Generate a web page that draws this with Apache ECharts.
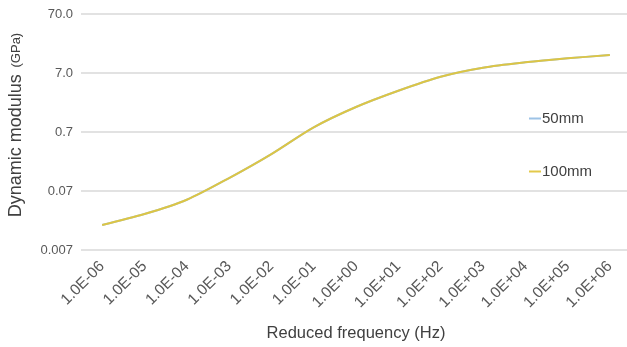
<!DOCTYPE html>
<html>
<head>
<meta charset="utf-8">
<script src="https://cdn.jsdelivr.net/npm/echarts@6/dist/echarts.min.js"></script>
<style>
  html, body { margin: 0; padding: 0; background: #ffffff; }
  #chart { width: 627px; height: 347px; }
</style>
</head>
<body>
<div id="chart"></div>
<script>
// Reduced frequency categories (Hz)
const frequencies = ['1.0E-06', '1.0E-05', '1.0E-04', '1.0E-03', '1.0E-02', '1.0E-01',
  '1.0E+00', '1.0E+01', '1.0E+02', '1.0E+03', '1.0E+04', '1.0E+05', '1.0E+06'];

// Dynamic modulus master curves (GPa)
const modulus50mm = [0.0186, 0.0285, 0.0498, 0.116, 0.296, 0.841, 1.86, 3.51, 6.06, 8.61, 10.6, 12.4, 14.1];
const modulus100mm = [0.0186, 0.0285, 0.0498, 0.116, 0.296, 0.841, 1.86, 3.51, 6.06, 8.61, 10.6, 12.4, 14.1];

// Log-axis gridline values and their printed labels
const yTickValues = [0.007, 0.07, 0.7, 7, 70];
const yTickLabels = ['0.007', '0.07', '0.7', '7.0', '70.0'];

const chart = echarts.init(document.getElementById('chart'), null, { renderer: 'canvas' });

const labelFont = 'Liberation Sans, Arial, sans-serif';

chart.setOption({
  animation: false,
  backgroundColor: '#ffffff',
  grid: { left: 81, top: 14, width: 550, height: 236, containLabel: false, outerBoundsMode: 'none' },
  legend: {
    orient: 'vertical',
    left: 524,
    top: 106,
    itemGap: 38,
    itemWidth: 12,
    itemHeight: 2,
    icon: 'rect',
    textStyle: { fontFamily: labelFont, fontSize: 15, color: '#404040', padding: [0, 0, 0, -4] },
    data: ['50mm', '100mm']
  },
  xAxis: {
    type: 'category',
    data: frequencies,
    boundaryGap: true,
    name: 'Reduced frequency (Hz)',
    nameLocation: 'middle',
    nameGap: 75,
    nameTextStyle: { fontFamily: labelFont, fontSize: 16.5, color: '#404040' },
    axisLine: { show: false },
    axisTick: { show: false },
    axisLabel: { rotate: 45, margin: 14, fontFamily: labelFont, fontSize: 15.5, color: '#595959', interval: 0 },
    splitLine: { show: false }
  },
  yAxis: {
    type: 'log',
    logBase: 10,
    min: 0.007,
    max: 70,
    name: '{a|Dynamic modulus}  {b|(GPa)}',
    nameLocation: 'middle',
    nameGap: 56,
    nameTextStyle: {
      color: '#404040',
      padding: [0, 0, 0, 14],
      rich: {
        a: { fontFamily: labelFont, fontSize: 18, color: '#404040' },
        b: { fontFamily: labelFont, fontSize: 13, color: '#404040' }
      }
    },
    axisLine: { show: false },
    axisTick: { show: false, customValues: yTickValues },
    axisLabel: {
      customValues: yTickValues,
      margin: 8,
      fontFamily: labelFont,
      fontSize: 13,
      color: '#595959',
      formatter: function (v) {
        for (let i = 0; i < yTickValues.length; i++) {
          if (Math.abs(v - yTickValues[i]) / yTickValues[i] < 1e-6) return yTickLabels[i];
        }
        return '';
      }
    },
    splitLine: { show: true, lineStyle: { color: '#d9d9d9', width: 1.5 } }
  },
  series: [
    {
      name: '50mm',
      type: 'line',
      data: modulus50mm,
      smooth: 0.3,
      symbol: 'none',
      lineStyle: { color: '#9dc3e6', width: 2 },
      itemStyle: { color: '#9dc3e6' }
    },
    {
      name: '100mm',
      type: 'line',
      data: modulus100mm,
      smooth: 0.3,
      symbol: 'none',
      lineStyle: { color: '#dcc545', width: 2 },
      itemStyle: { color: '#e3c94a' }
    }
  ]
});
</script>
</body>
</html>
